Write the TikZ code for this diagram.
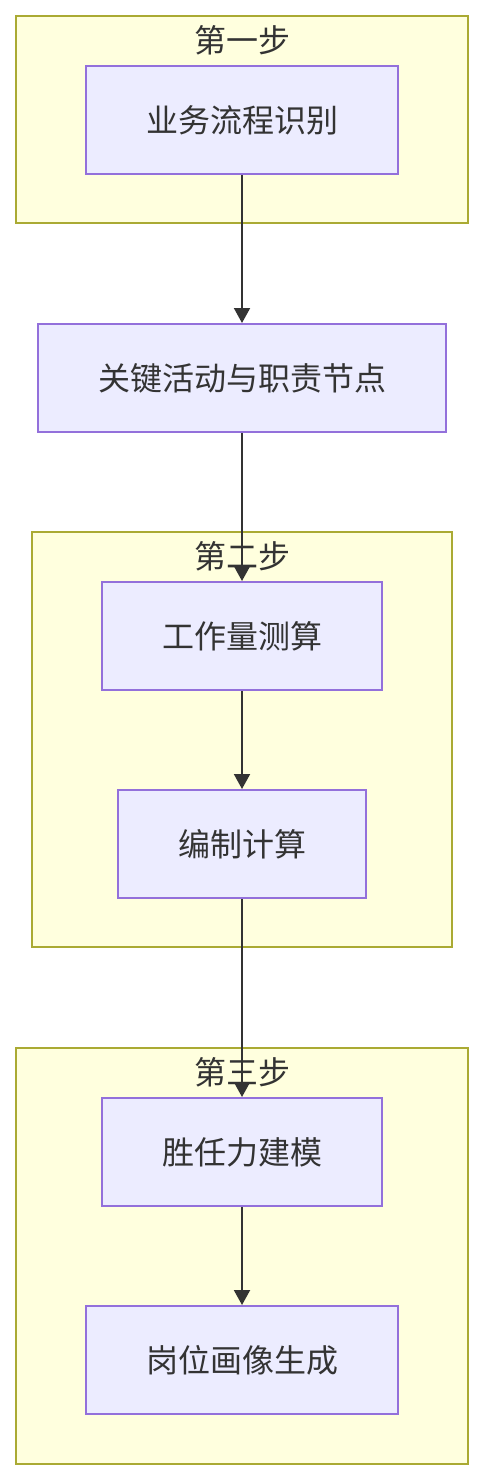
\documentclass[tikz,border=0pt]{standalone}
\usepackage{fontspec}
\setmainfont{Noto Sans CJK SC}
\usetikzlibrary{arrows.meta}
\definecolor{grpfill}{HTML}{FFFFDE}
\definecolor{grpline}{HTML}{AAAA33}
\definecolor{boxfill}{HTML}{ECECFF}
\definecolor{boxline}{HTML}{9370DB}
\definecolor{txt}{HTML}{333333}
\tikzset{
  grp/.style={draw=grpline, fill=grpfill, line width=2pt, rectangle, inner sep=0pt},
  grplabel/.style={text=txt, font=\fontsize{32pt}{37pt}\selectfont, inner sep=0pt},
  box/.style={draw=boxline, fill=boxfill, line width=2pt, rectangle, text=txt,
    font=\fontsize{32pt}{37pt}\selectfont, minimum height=108pt, inner sep=0pt},
  edge/.style={draw=txt, line width=2pt, -{Triangle[width=16pt,length=15pt]}}
}
\begin{document}
\begin{tikzpicture}[x=1pt,y=-1pt]
\useasboundingbox (0,0) rectangle (484,1480);
% groups
\node[grp, minimum width=452pt, minimum height=207pt] (g1) at (242,119.5) {};
\node[grp, minimum width=420pt, minimum height=415pt] (g2) at (242,739.5) {};
\node[grp, minimum width=452pt, minimum height=416pt] (g3) at (242,1256) {};
\node[grplabel] (l1) at (242,40) {第一步};
\node[grplabel] (l2) at (242,556) {第二步};
\node[grplabel] (l3) at (242,1072) {第三步};
% nodes
\node[box, minimum width=312pt] (a) at (242,120) {业务流程识别};
\node[box, minimum width=408pt] (b) at (242,378) {关键活动与职责节点};
\node[box, minimum width=280pt] (c) at (242,636) {工作量测算};
\node[box, minimum width=248pt] (d) at (242,844) {编制计算};
\node[box, minimum width=280pt] (e) at (242,1152) {胜任力建模};
\node[box, minimum width=312pt] (f) at (242,1360) {岗位画像生成};
% edges
\draw[edge] (a) -- (b);
\draw[edge] (b) -- (c);
\draw[edge] (c) -- (d);
\draw[edge] (d) -- (e);
\draw[edge] (e) -- (f);
\end{tikzpicture}
\end{document}
